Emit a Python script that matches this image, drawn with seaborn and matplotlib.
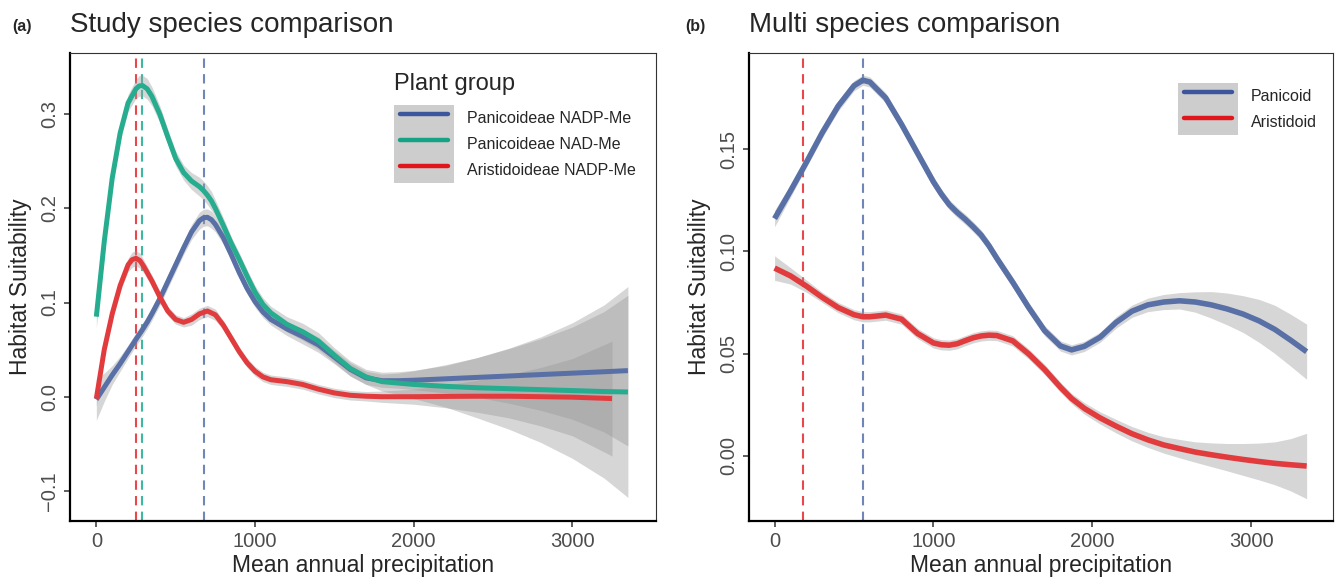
import numpy as np
import pandas as pd
import matplotlib.pyplot as plt
import seaborn as sns
from matplotlib.patches import Patch
from matplotlib.lines import Line2D
from matplotlib.legend_handler import HandlerTuple, HandlerLine2D

# ----------------------------------------------------------
# Data
# ----------------------------------------------------------
# (a) study species - smoothed habitat suitability vs precipitation
prec_a = [0, 50, 100, 150, 200, 250, 270, 290, 320, 350, 400, 450, 500, 550, 600, 650,
          675, 700, 725, 750, 800, 850, 900, 950, 1000, 1050, 1100, 1200, 1300, 1400,
          1500, 1600, 1700, 1800, 1900, 2000, 2200, 2400, 2600, 2800, 3000, 3200, 3350]
nadp_me = [-0.003, 0.010, 0.023, 0.035, 0.048, 0.061, 0.066, 0.071, 0.079, 0.088,
           0.104, 0.122, 0.140, 0.158, 0.175, 0.187, 0.190, 0.1905, 0.188, 0.183,
           0.169, 0.151, 0.132, 0.115, 0.101, 0.090, 0.082, 0.072, 0.064, 0.055,
           0.042, 0.029, 0.020, 0.017, 0.017, 0.0175, 0.019, 0.0205, 0.022, 0.0235,
           0.025, 0.0265, 0.0277]
nadp_me_se = [0.022, 0.015, 0.010, 0.008, 0.007, 0.007, 0.007, 0.007, 0.007, 0.007,
              0.007, 0.007, 0.007, 0.007, 0.008, 0.009, 0.009, 0.009, 0.009, 0.008,
              0.007, 0.006, 0.006, 0.006, 0.006, 0.006, 0.006, 0.007, 0.008, 0.008,
              0.007, 0.007, 0.007, 0.007, 0.008, 0.010, 0.015, 0.021, 0.029, 0.038,
              0.049, 0.064, 0.080]
nad_me = [0.085, 0.165, 0.232, 0.280, 0.312, 0.327, 0.330, 0.3305, 0.327, 0.319,
          0.300, 0.276, 0.253, 0.238, 0.229, 0.223, 0.219, 0.214, 0.208, 0.200,
          0.182, 0.163, 0.146, 0.128, 0.111, 0.098, 0.089, 0.077, 0.069, 0.059,
          0.044, 0.030, 0.021, 0.016, 0.0145, 0.013, 0.011, 0.0095, 0.0085, 0.0075,
          0.0065, 0.0055, 0.005]
nad_me_se = [0.012, 0.009, 0.008, 0.008, 0.009, 0.010, 0.011, 0.011, 0.011, 0.010,
             0.009, 0.008, 0.008, 0.008, 0.009, 0.010, 0.010, 0.010, 0.010, 0.009,
             0.008, 0.007, 0.007, 0.007, 0.007, 0.007, 0.007, 0.008, 0.009, 0.009,
             0.008, 0.008, 0.008, 0.010, 0.012, 0.015, 0.022, 0.032, 0.043, 0.056,
             0.072, 0.092, 0.112]

prec_ar = [0, 50, 100, 150, 200, 225, 250, 275, 300, 350, 400, 450, 500, 550, 600, 650,
           700, 750, 800, 850, 900, 950, 1000, 1050, 1100, 1200, 1300, 1400, 1500, 1600,
           1700, 1800, 2000, 2200, 2400, 2600, 2800, 3000, 3250]
arist_a = [-0.002, 0.050, 0.088, 0.118, 0.140, 0.1455, 0.147, 0.1445, 0.138, 0.123,
           0.106, 0.091, 0.082, 0.079, 0.082, 0.088, 0.091, 0.087, 0.076, 0.062,
           0.048, 0.036, 0.027, 0.021, 0.018, 0.016, 0.013, 0.008, 0.004, 0.0015,
           0.0005, 0.0, 0.0, 0.0003, 0.0005, 0.0005, 0.0, -0.0005, -0.002]
arist_a_se = [0.008, 0.007, 0.006, 0.006, 0.007, 0.008, 0.008, 0.008, 0.007, 0.006,
              0.006, 0.005, 0.005, 0.005, 0.006, 0.006, 0.006, 0.006, 0.005, 0.005,
              0.005, 0.005, 0.005, 0.005, 0.005, 0.005, 0.005, 0.005, 0.005, 0.005,
              0.005, 0.006, 0.008, 0.012, 0.017, 0.023, 0.031, 0.041, 0.061]

# (b) multi species comparison
prec_b = [0, 100, 200, 300, 400, 500, 556, 600, 700, 800, 900, 1000, 1050, 1100, 1150,
          1200, 1250, 1300, 1350, 1400, 1500, 1600, 1700, 1800, 1870, 1950, 2050, 2150,
          2250, 2350, 2450, 2550, 2650, 2750, 2850, 2950, 3050, 3150, 3250, 3350]
panicoid = [0.116, 0.1295, 0.1435, 0.158, 0.171, 0.181, 0.1837, 0.1828, 0.175, 0.162,
            0.148, 0.134, 0.128, 0.1228, 0.119, 0.1157, 0.112, 0.108, 0.1027, 0.0965,
            0.0848, 0.0725, 0.0612, 0.0537, 0.0518, 0.0535, 0.058, 0.0652, 0.0707,
            0.0738, 0.0752, 0.0758, 0.0752, 0.0738, 0.0718, 0.0693, 0.066, 0.0618,
            0.0565, 0.0509]
panicoid_se = [0.004, 0.003, 0.0025, 0.0025, 0.0025, 0.0025, 0.0025, 0.0025, 0.0025,
               0.0025, 0.0025, 0.0025, 0.0025, 0.0025, 0.0025, 0.0025, 0.0025, 0.0025,
               0.0025, 0.0025, 0.0025, 0.0025, 0.0025, 0.0025, 0.0025, 0.0025, 0.0025,
               0.0028, 0.003, 0.0033, 0.0037, 0.004, 0.005, 0.0065, 0.0078, 0.009,
               0.0105, 0.0118, 0.0127, 0.0135]
aristidoid = [0.0918, 0.088, 0.083, 0.0775, 0.0725, 0.069, 0.068, 0.068, 0.0688, 0.0668,
              0.0598, 0.0552, 0.0543, 0.0541, 0.0548, 0.0563, 0.0577, 0.0586, 0.059,
              0.0588, 0.0562, 0.0498, 0.0422, 0.0335, 0.028, 0.0232, 0.0185, 0.0145,
              0.0108, 0.0078, 0.0053, 0.0035, 0.0018, 0.0005, -0.0007, -0.0018,
              -0.0028, -0.0037, -0.0044, -0.005]
aristidoid_se = [0.006, 0.004, 0.003, 0.0025, 0.0025, 0.0025, 0.0025, 0.0025, 0.0025,
                 0.0025, 0.0025, 0.0025, 0.0025, 0.0025, 0.0025, 0.0025, 0.0025, 0.0025,
                 0.0025, 0.0025, 0.0025, 0.0025, 0.0025, 0.0025, 0.0025, 0.0028, 0.003,
                 0.0033, 0.0035, 0.0037, 0.004, 0.0045, 0.005, 0.0058, 0.0067, 0.0078,
                 0.009, 0.0105, 0.0128, 0.016]

# optimum precipitation (dashed lines)
optimum_a = {"Aristidoideae NADP-Me": 250, "Panicoideae NAD-Me": 290, "Panicoideae NADP-Me": 677}
optimum_b = {"Aristidoid": 182, "Panicoid": 556}

# ----------------------------------------------------------
# Styling
# ----------------------------------------------------------
BLUE, BLUE_KEY, BLUE_DASH = "#5870A6", "#3B569C", "#7086B9"
TEAL, TEAL_KEY, TEAL_DASH = "#26AC8E", "#16A384", "#3CB9A0"
RED, RED_KEY, RED_DASH = "#E23B3E", "#E0161C", "#E9474B"
RIBBON = "#999999"
KEY_BG = "#CDCDCD"

sns.set_style("white")
plt.rcParams["font.family"] = ["Liberation Sans", "DejaVu Sans"]
plt.rcParams["axes.unicode_minus"] = True

W, H = 1338, 587
fig = plt.figure(figsize=(W / 100, H / 100), dpi=100)


def px_axes(l, t, r, b):
    return fig.add_axes([l / W, 1 - b / H, (r - l) / W, (b - t) / H])


ax_a = px_axes(70, 53, 656, 521)
ax_b = px_axes(749, 53, 1333, 521)


class InsetLine(HandlerLine2D):
    # legend key line drawn a little shorter than the grey key box
    def create_artists(self, legend, orig_handle, xdescent, ydescent, width, height,
                       fontsize, trans):
        inset = 0.1 * width
        return super().create_artists(legend, orig_handle, xdescent - inset, ydescent,
                                      width - 2 * inset, height, fontsize, trans)


def smooth_layer(ax, x, y, se, color, lw):
    df = pd.DataFrame({"x": x, "y": y, "se": se})
    ax.fill_between(df["x"], df["y"] - df["se"], df["y"] + df["se"],
                    color=RIBBON, alpha=0.4, lw=0, zorder=2)
    sns.lineplot(data=df, x="x", y="y", color=color, lw=lw, errorbar=None,
                 ax=ax, zorder=3, solid_capstyle="butt", solid_joinstyle="round")


def style_axes(ax, xlim, ylim, yticks):
    ax.set_xlim(*xlim)
    ax.set_ylim(*ylim)
    ax.set_xticks([0, 1000, 2000, 3000])
    ax.set_yticks(yticks)
    for side in ["left", "bottom"]:
        ax.spines[side].set_color("black")
        ax.spines[side].set_linewidth(1.6)
    for side in ["top", "right"]:
        ax.spines[side].set_color("#333333")
        ax.spines[side].set_linewidth(0.8)
        ax.spines[side].set_visible(True)
    ax.tick_params(axis="both", which="major", length=4, width=1.1, color="#333333",
                   labelsize=14.5, labelcolor="#4D4D4D", bottom=True, left=True, pad=4)
    ax.tick_params(axis="y", labelrotation=90)
    for lab in ax.get_yticklabels():
        lab.set_va("center")
    ax.set_xlabel("Mean annual precipitation", fontsize=16.5, labelpad=2)
    ax.set_ylabel("Habitat Suitability", fontsize=16.5, labelpad=6)


def key_legend(ax, labels, colors, anchor, title=None):
    handles = [(Patch(facecolor=KEY_BG, edgecolor="none"), Line2D([], [], color=c, lw=3.2))
               for c in colors]
    leg = ax.legend(handles=handles, labels=labels, loc="upper left",
                    bbox_to_anchor=(anchor[0] / W, 1 - anchor[1] / H),
                    bbox_transform=fig.transFigure, frameon=False,
                    handler_map={tuple: HandlerTuple(ndivide=1, pad=0),
                                 Line2D: InsetLine()},
                    fontsize=11.5, handlelength=3.75, handleheight=2.13,
                    labelspacing=0, handletextpad=0.8, borderpad=0,
                    borderaxespad=0, title=title, title_fontsize=17,
                    alignment="left")
    if title is not None:
        leg._legend_box.sep = 7
    return leg


# ----------------------------------------------------------
# (a) Study species comparison
# ----------------------------------------------------------
for key, col in zip(optimum_a, [RED_DASH, TEAL_DASH, BLUE_DASH]):
    ax_a.axvline(optimum_a[key], color=col, lw=1.5, ls=(0, (4.5, 3)), zorder=1)

smooth_layer(ax_a, prec_a, nadp_me, nadp_me_se, BLUE, 3.6)
smooth_layer(ax_a, prec_a, nad_me, nad_me_se, TEAL, 3.6)
smooth_layer(ax_a, prec_ar, arist_a, arist_a_se, RED, 3.6)

style_axes(ax_a, (-166, 3527), (-0.132, 0.365), [-0.1, 0.0, 0.1, 0.2, 0.3])
key_legend(ax_a, ["Panicoideae NADP-Me", "Panicoideae NAD-Me", "Aristidoideae NADP-Me"],
           [BLUE_KEY, TEAL_KEY, RED_KEY], (394, 73), title="Plant group")

# ----------------------------------------------------------
# (b) Multi species comparison
# ----------------------------------------------------------
for key, col in zip(optimum_b, [RED_DASH, BLUE_DASH]):
    ax_b.axvline(optimum_b[key], color=col, lw=1.5, ls=(0, (4.5, 3)), zorder=1)

smooth_layer(ax_b, prec_b, panicoid, panicoid_se, BLUE, 4.0)
smooth_layer(ax_b, prec_b, aristidoid, aristidoid_se, RED, 4.0)

style_axes(ax_b, (-161, 3516), (-0.0319, 0.197), [0.0, 0.05, 0.10, 0.15])
key_legend(ax_b, ["Panicoid", "Aristidoid"], [BLUE_KEY, RED_KEY], (1178, 83))

# ----------------------------------------------------------
# Panel titles
# ----------------------------------------------------------
for x_tag, x_title, tag, title in [(12, 70, "(a)", "Study species comparison"),
                                   (685, 749, "(b)", "Multi species comparison")]:
    fig.text(x_tag / W, 1 - 31.5 / H, tag, fontsize=11.5, fontweight="bold", va="baseline")
    fig.text(x_title / W, 1 - 31.5 / H, title, fontsize=20, va="baseline")

fig.savefig("out.png", dpi=100)
